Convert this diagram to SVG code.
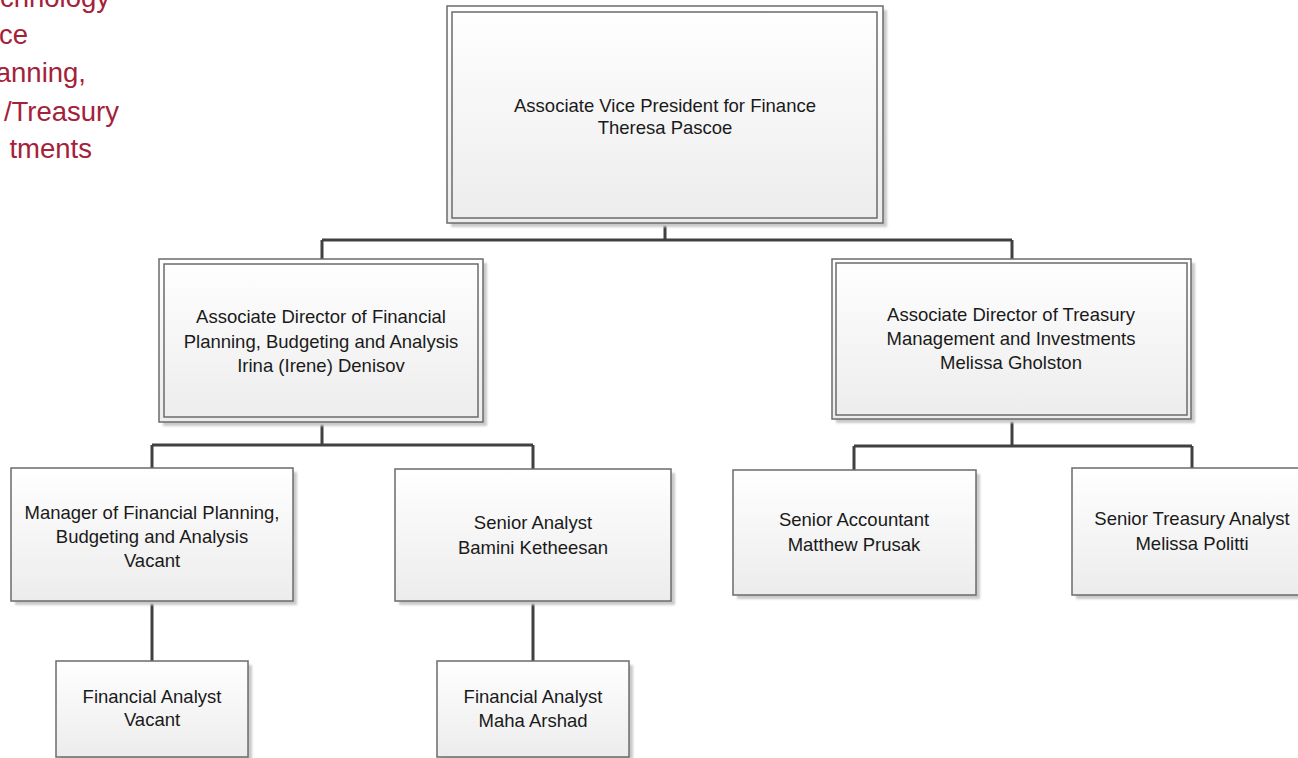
<svg xmlns="http://www.w3.org/2000/svg" width="1298" height="758" viewBox="0 0 1298 758">
<defs>
<linearGradient id="fill" x1="0" y1="0" x2="0" y2="1">
<stop offset="0" stop-color="#ffffff"/>
<stop offset="1" stop-color="#ececec"/>
</linearGradient>
<filter id="sh" x="-5%" y="-5%" width="115%" height="115%">
<feGaussianBlur stdDeviation="1"/>
</filter>
</defs>
<style>
.shadow{fill:#c9c9c9;filter:url(#sh)}
.box{fill:url(#fill);stroke:#6b6b6b;stroke-width:1.5}
.inner{fill:none;stroke:#6b6b6b;stroke-width:1.5}
.lbl{font-family:"Liberation Sans",Arial,sans-serif;font-size:18.5px;fill:#1a1a1a;text-anchor:middle}
.red{font-family:"Liberation Sans",Arial,sans-serif;font-size:27.5px;fill:#a3223a;text-anchor:end}
.conn{fill:none;stroke:#404040;stroke-width:3}
</style>
<rect width="1298" height="758" fill="#ffffff"/>

<g id="side-text">
<text class="red" x="110" y="7">echnology</text>
<text class="red" x="28" y="44">ce</text>
<text class="red" x="86" y="82">anning,</text>
<text class="red" x="119" y="121">/Treasury</text>
<text class="red" x="92" y="158">tments</text>
</g>

<g id="connectors">
<path class="conn" d="M665 223 V240 M322 240 H1012 M322 240 V259 M1012 240 V259"/>
<path class="conn" d="M322 422 V445 M152 445 H533 M152 445 V468 M533 445 V469"/>
<path class="conn" d="M1012 419 V446 M854 446 H1192 M854 446 V470 M1192 446 V468"/>
<path class="conn" d="M152 601 V661 M533 601 V661"/>
</g>

<g id="n-avp">
<rect class="shadow" x="451" y="10" width="436" height="217"/>
<rect class="box" x="447" y="6" width="436" height="217"/>
<rect class="inner" x="452" y="12" width="425" height="206"/>
<text class="lbl" x="665" y="112">Associate Vice President for Finance</text>
<text class="lbl" x="665" y="134">Theresa Pascoe</text>
</g>

<g id="n-fpba">
<rect class="shadow" x="163" y="263" width="324" height="163"/>
<rect class="box" x="159" y="259" width="324" height="163"/>
<rect class="inner" x="164" y="264" width="314" height="153"/>
<text class="lbl" x="321" y="323">Associate Director of Financial</text>
<text class="lbl" x="321" y="348">Planning, Budgeting and Analysis</text>
<text class="lbl" x="321" y="372">Irina (Irene) Denisov</text>
</g>

<g id="n-treasury">
<rect class="shadow" x="836" y="263" width="359" height="160"/>
<rect class="box" x="832" y="259" width="359" height="160"/>
<rect class="inner" x="836" y="263" width="351" height="152"/>
<text class="lbl" x="1011" y="321">Associate Director of Treasury</text>
<text class="lbl" x="1011" y="345">Management and Investments</text>
<text class="lbl" x="1011" y="369">Melissa Gholston</text>
</g>

<g id="n-manager">
<rect class="shadow" x="15" y="472" width="282" height="133"/>
<rect class="box" x="11" y="468" width="282" height="133"/>
<text class="lbl" x="152" y="519">Manager of Financial Planning,</text>
<text class="lbl" x="152" y="543">Budgeting and Analysis</text>
<text class="lbl" x="152" y="567">Vacant</text>
</g>

<g id="n-senior-analyst">
<rect class="shadow" x="399" y="473" width="276" height="132"/>
<rect class="box" x="395" y="469" width="276" height="132"/>
<text class="lbl" x="533" y="529">Senior Analyst</text>
<text class="lbl" x="533" y="554">Bamini Ketheesan</text>
</g>

<g id="n-senior-accountant">
<rect class="shadow" x="737" y="474" width="243" height="125"/>
<rect class="box" x="733" y="470" width="243" height="125"/>
<text class="lbl" x="854" y="526">Senior Accountant</text>
<text class="lbl" x="854" y="551">Matthew Prusak</text>
</g>

<g id="n-senior-treasury">
<rect class="shadow" x="1076" y="472" width="240" height="127"/>
<rect class="box" x="1072" y="468" width="240" height="127"/>
<text class="lbl" x="1192" y="525">Senior Treasury Analyst</text>
<text class="lbl" x="1192" y="550">Melissa Politti</text>
</g>

<g id="n-fa-vacant">
<rect class="shadow" x="60" y="665" width="192" height="100"/>
<rect class="box" x="56" y="661" width="192" height="96"/>
<text class="lbl" x="152" y="703">Financial Analyst</text>
<text class="lbl" x="152" y="726">Vacant</text>
</g>

<g id="n-fa-maha">
<rect class="shadow" x="441" y="665" width="192" height="100"/>
<rect class="box" x="437" y="661" width="192" height="96"/>
<text class="lbl" x="533" y="703">Financial Analyst</text>
<text class="lbl" x="533" y="727">Maha Arshad</text>
</g>
</svg>
